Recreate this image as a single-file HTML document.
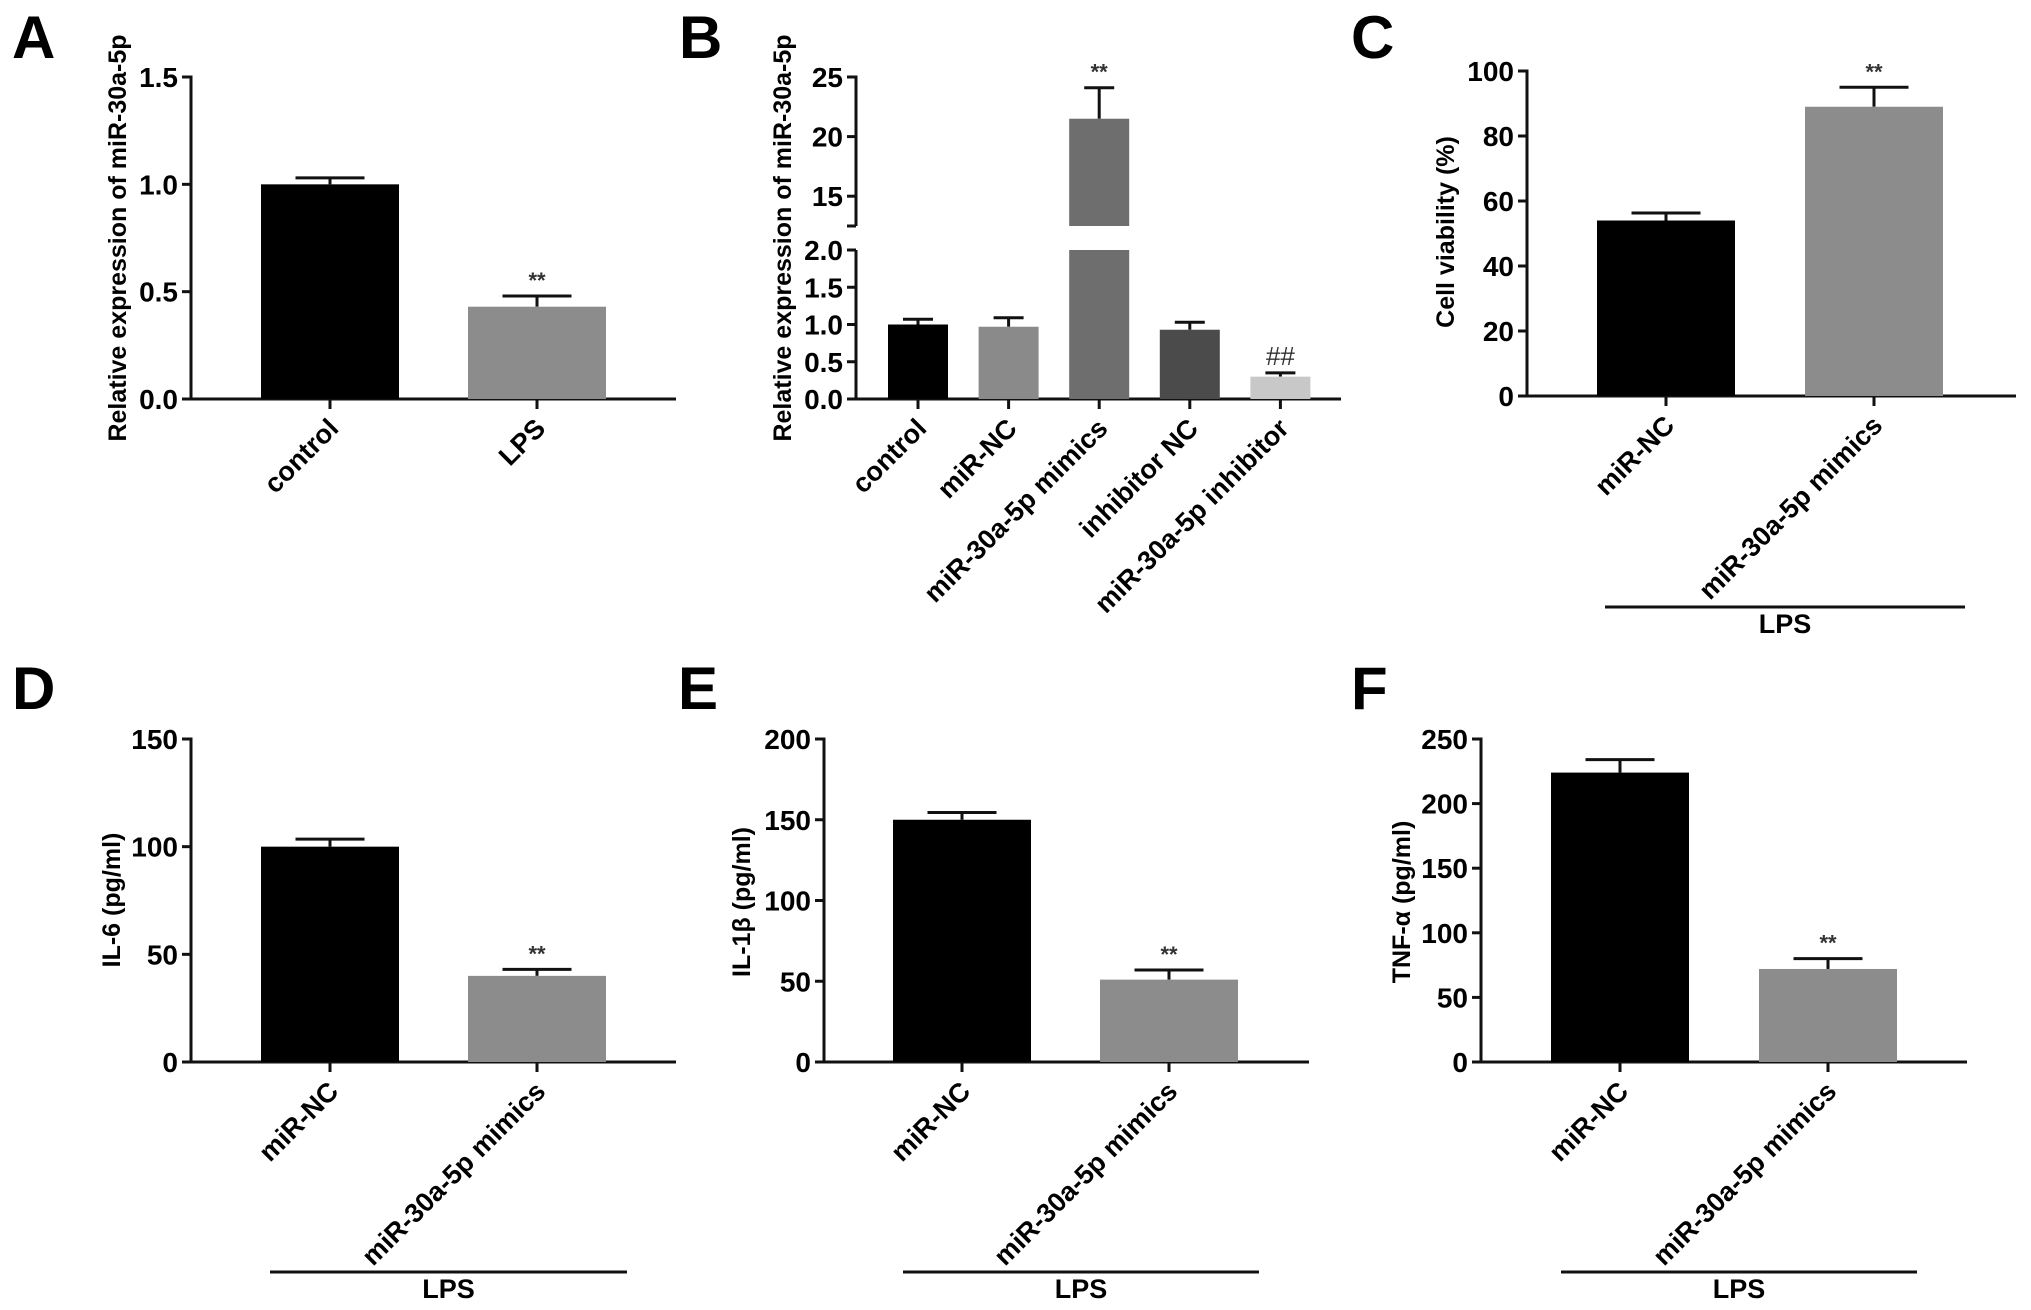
<!DOCTYPE html>
<html><head><meta charset="utf-8"><style>
html,body{margin:0;padding:0;background:#fff;}
svg{display:block;font-family:"Liberation Sans",Arial,sans-serif;font-weight:bold;}
</style></head><body>
<svg id="fig" width="2031" height="1310" viewBox="0 0 2031 1310" xmlns="http://www.w3.org/2000/svg"></svg>
<script>
// ---- data ----
const aCats = ["control","LPS"];
const aVals = [1.0, 0.43];
const aErrs = [0.03, 0.05];
const aTicks = ["0.0","0.5","1.0","1.5"];

const bCats = ["control","miR-NC","miR-30a-5p mimics","inhibitor NC","miR-30a-5p inhibitor"];
const bVals = [1.0, 0.97, 21.5, 0.93, 0.30];
const bErrs = [0.07, 0.12, 2.6, 0.10, 0.05];
const bTicksLow = ["0.0","0.5","1.0","1.5","2.0"];
const bTicksHigh = ["15","20","25"];

const cCats = ["miR-NC","miR-30a-5p mimics"];
const cVals = [54, 89];
const cErrs = [2.3, 6];
const cTicks = ["0","20","40","60","80","100"];

const dVals = [100, 40];
const dErrs = [3.5, 3];
const dTicks = ["0","50","100","150"];

const eVals = [150, 51];
const eErrs = [4.5, 6];
const eTicks = ["0","50","100","150","200"];

const fVals = [224, 72];
const fErrs = [10, 8];
const fTicks = ["0","50","100","150","200","250"];

const NS="http://www.w3.org/2000/svg";
const svg=document.getElementById('fig');
function mk(tag,attrs,parent){const e=document.createElementNS(NS,tag);for(const k in attrs)e.setAttribute(k,attrs[k]);(parent||svg).appendChild(e);return e;}
function txt(s,attrs,parent){const e=mk('text',attrs,parent);e.textContent=s;return e;}
const TICKF=28, CATF=27, TITF=25;

function panel(p){
  const g=mk('g',{});
  
  
  const L=txt(p.letter,{x:p.lx,y:p.ly,'font-size':60},g);
  
  
  const y=v=>p.y0-(v-p.min)/(p.max-p.min)*(p.y0-p.yTop);
  const ya=mk('line',{x1:p.ax,y1:p.yTop-1.5,x2:p.ax,y2:p.y0,stroke:'#111','stroke-width':3},g);
  
  
  p.ticks.forEach(t=>{
    const v=parseFloat(t),yy=y(v);
    mk('line',{x1:p.ax-9,y1:yy,x2:p.ax,y2:yy,stroke:'#111','stroke-width':3},g);
    const tl=txt(t,{x:p.ax-13,y:yy+10,'font-size':TICKF,'text-anchor':'end'},g);
    
    
  });
  const xa=mk('line',{x1:p.ax,y1:p.y0,x2:p.xEnd,y2:p.y0,stroke:'#111','stroke-width':3},g);
  
  
  const tt=txt(p.title,{x:0,y:0,'font-size':TITF,'text-anchor':'middle',transform:`translate(${p.tx},${p.ty}) rotate(-90)`},g);
  
  
  p.vals.forEach((v,i)=>{
    const x0=p.b0+i*p.step, cx=x0+p.bw/2;
    const top=y(v), et=y(v+p.errs[i]);
    mk('line',{x1:cx,y1:top,x2:cx,y2:et,stroke:'#111','stroke-width':3},g);
    mk('line',{x1:cx-p.bw/4,y1:et,x2:cx+p.bw/4,y2:et,stroke:'#111','stroke-width':3},g);
    const r=mk('rect',{x:x0,y:top,width:p.bw,height:p.y0-top,fill:p.colors[i]},g);
    
    
    mk('line',{x1:cx,y1:p.y0,x2:cx,y2:p.y0+10,stroke:'#111','stroke-width':3},g);
    if(i==1){const s=txt('**',{x:cx,y:et-8,'font-size':22,'text-anchor':'middle',fill:'#333'},g);
      
      }
    const cl=txt(p.cats[i],{x:0,y:0,'font-size':CATF,'text-anchor':'end',transform:`translate(${cx+10},${p.y0+31}) rotate(-45)`},g);
    
    
  });
  if(p.lps){
    const ll=mk('line',{x1:p.lps[0],y1:p.lps[2],x2:p.lps[1],y2:p.lps[2],stroke:'#111','stroke-width':3},g);
    
    
    const lt=txt('LPS',{x:(p.lps[0]+p.lps[1])/2,y:p.lps[2]+26,'font-size':27,'text-anchor':'middle'},g);
    
    
  }
}
const two=['#000','#8c8c8c'];
panel({letter:'A',lx:12,ly:58,ax:191,yTop:77,y0:399,min:0,max:1.5,xEnd:676,ticks:aTicks,vals:aVals,errs:aErrs,cats:aCats,b0:261,bw:138,step:207,colors:two,title:'Relative expression of miR-30a-5p',tx:126,ty:238});
panel({letter:'C',lx:1351,ly:58,ax:1527,yTop:71,y0:396,min:0,max:100,xEnd:2016,ticks:cTicks,vals:cVals,errs:cErrs,cats:cCats,b0:1597,bw:138,step:208,colors:two,title:'Cell viability (%)',tx:1454,ty:232,lps:[1605,1965,607]});
panel({letter:'D',lx:12,ly:709,ax:191,yTop:739,y0:1062,min:0,max:150,xEnd:676,ticks:dTicks,vals:dVals,errs:dErrs,cats:cCats,b0:261,bw:138,step:207,colors:two,title:'IL-6 (pg/ml)',tx:120,ty:900,lps:[270,627,1272]});
panel({letter:'E',lx:678,ly:709,ax:824,yTop:739,y0:1062,min:0,max:200,xEnd:1309,ticks:eTicks,vals:eVals,errs:eErrs,cats:cCats,b0:893,bw:138,step:207,colors:two,title:'IL-1β (pg/ml)',tx:750,ty:902,lps:[903,1259,1272]});
panel({letter:'F',lx:1351,ly:709,ax:1481,yTop:739,y0:1062,min:0,max:250,xEnd:1967,ticks:fTicks,vals:fVals,errs:fErrs,cats:cCats,b0:1551,bw:138,step:208,colors:two,title:'TNF-α (pg/ml)',tx:1410,ty:902,lps:[1561,1917,1272]});

// ---- Panel B (broken axis) ----
(function(){
  const g=mk('g',{});
  
  
  const L=txt('B',{x:679,y:58,'font-size':60},g);
  
  
  const ax=856,y0=399,yLowTop=250,lowMax=2,hiMin=12.5,hiMax=25,yHiTop=77,yHiBot=226;
  const yl=v=>y0-v/lowMax*(y0-yLowTop);
  const yh=v=>yHiBot-(v-hiMin)/(hiMax-hiMin)*(yHiBot-yHiTop);
  const yv=v=>v<=lowMax?yl(v):yh(v);
  const a1=mk('line',{x1:ax,y1:yLowTop,x2:ax,y2:y0,stroke:'#111','stroke-width':3},g);
  
  
  const a2=mk('line',{x1:ax,y1:yHiTop-1.5,x2:ax,y2:yHiBot,stroke:'#111','stroke-width':3},g);
  
  
  mk('line',{x1:ax-9,y1:yHiBot,x2:ax,y2:yHiBot,stroke:'#111','stroke-width':3},g);
  bTicksLow.forEach(t=>{const yy=yl(parseFloat(t));
    mk('line',{x1:ax-9,y1:yy,x2:ax,y2:yy,stroke:'#111','stroke-width':3},g);
    const tl=txt(t,{x:ax-13,y:yy+10,'font-size':TICKF,'text-anchor':'end'},g);
    
    });
  bTicksHigh.forEach(t=>{const yy=yh(parseFloat(t));
    mk('line',{x1:ax-9,y1:yy,x2:ax,y2:yy,stroke:'#111','stroke-width':3},g);
    const tl=txt(t,{x:ax-13,y:yy+10,'font-size':TICKF,'text-anchor':'end'},g);
    
    });
  const xa=mk('line',{x1:ax,y1:y0,x2:1341,y2:y0,stroke:'#111','stroke-width':3},g);
  
  
  const tt=txt('Relative expression of miR-30a-5p',{x:0,y:0,'font-size':TITF,'text-anchor':'middle',transform:'translate(791,238) rotate(-90)'},g);
  
  
  const cols=['#000','#8a8a8a','#6e6e6e','#4b4b4b','#c8c8c8'];
  const b0=888,bw=60,step=90.6;
  bVals.forEach((v,i)=>{
    const x0=b0+i*step,cx=x0+bw/2,top=yv(v),et=yv(v+bErrs[i]);
    mk('line',{x1:cx,y1:top,x2:cx,y2:et,stroke:'#111','stroke-width':3},g);
    mk('line',{x1:cx-bw/4,y1:et,x2:cx+bw/4,y2:et,stroke:'#111','stroke-width':3},g);
    if(v>lowMax){
      const r1=mk('rect',{x:x0,y:yLowTop,width:bw,height:y0-yLowTop,fill:cols[i]},g);
      
      
      const r2=mk('rect',{x:x0,y:top,width:bw,height:yHiBot-top,fill:cols[i]},g);
      
      
      const s=txt('**',{x:cx,y:et-8,'font-size':22,'text-anchor':'middle',fill:'#333'},g);
      
      
    } else {
      const r=mk('rect',{x:x0,y:top,width:bw,height:y0-top,fill:cols[i]},g);
      
      
    }
    if(i==4){const s=txt('##',{x:cx,y:et-8,'font-size':26,'text-anchor':'middle',fill:'#333',
      'font-weight':'normal'},g);
      
      }
    mk('line',{x1:cx,y1:y0,x2:cx,y2:y0+10,stroke:'#111','stroke-width':3},g);
    const cl=txt(bCats[i],{x:0,y:0,'font-size':CATF,'text-anchor':'end',transform:`translate(${cx+10},${y0+31}) rotate(-45)`},g);
    
    
  });
})();
</script>
</body></html>
